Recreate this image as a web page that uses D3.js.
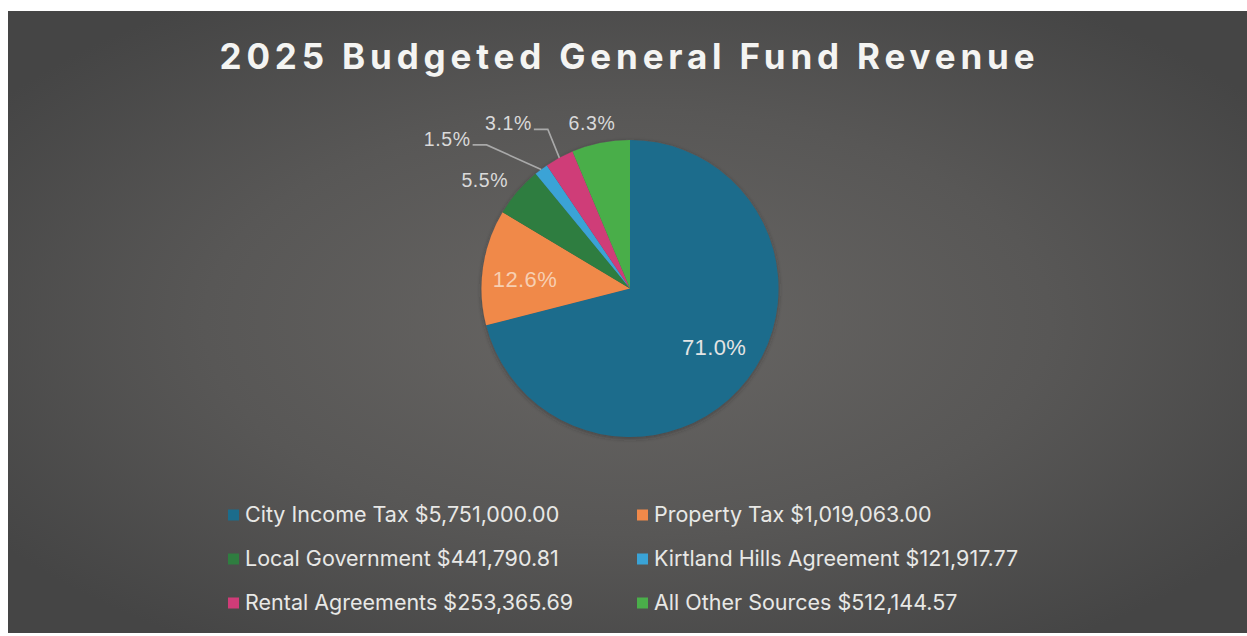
<!DOCTYPE html>
<html>
<head>
<meta charset="utf-8">
<script src="https://cdn.jsdelivr.net/npm/d3@7"></script>
<style>
  html, body { margin: 0; padding: 0; background: #ffffff; }
  svg { display: block; }
</style>
</head>
<body>
<svg id="chart" width="1247" height="636"></svg>
<script>
// Revenue sources and their budgeted amounts (USD)
const categories = [
  "City Income Tax",
  "Property Tax",
  "Local Government",
  "Kirtland Hills Agreement",
  "Rental Agreements",
  "All Other Sources"
];
const amounts = [5751000.00, 1019063.00, 441790.81, 121917.77, 253365.69, 512144.57];
const amountLabels = ["$5,751,000.00", "$1,019,063.00", "$441,790.81", "$121,917.77", "$253,365.69", "$512,144.57"];
const sliceColors = ["#1b6c8c", "#f0894a", "#2f7d40", "#3aa3d6", "#cf3c78", "#4aae4a"];
const chartTitle = "2025 Budgeted General Fund Revenue";

// Label placement per slice: radius as a fraction of the pie radius, angle nudge in degrees
const labelPlacement = [
  { r: 0.69, da: -3, inside: true, fill: "#e4e4e4" },
  { r: 0.71, da: -3, inside: true, fill: "#f7cfb2" },
  { r: 1.22, da: -4 },
  { r: 1.59, da: -14, leader: true },
  { r: 1.38, da: -8, leader: true },
  { r: 1.14, da: -1.6 }
];

const W = 1247, H = 636;
const svg = d3.select("#chart");
const defs = svg.append("defs");

// Dark vignette backdrop
const bg = defs.append("radialGradient").attr("id", "bgGrad")
  .attr("cx", "0.5").attr("cy", "0.5").attr("r", "0.62");
bg.append("stop").attr("offset", "0%").attr("stop-color", "#686664");
bg.append("stop").attr("offset", "55%").attr("stop-color", "#585756");
bg.append("stop").attr("offset", "100%").attr("stop-color", "#454545");

const shadow = defs.append("filter").attr("id", "pieShadow")
  .attr("x", "-20%").attr("y", "-20%").attr("width", "140%").attr("height", "140%");
shadow.append("feDropShadow").attr("dx", 0).attr("dy", 1.5).attr("stdDeviation", 2)
  .attr("flood-color", "#2a2a2a").attr("flood-opacity", 0.5);

svg.append("rect")
  .attr("x", 8).attr("y", 11)
  .attr("width", W - 8).attr("height", 622)
  .attr("fill", "url(#bgGrad)");

// Title
svg.append("text")
  .attr("x", 627).attr("y", 69)
  .attr("text-anchor", "middle")
  .attr("font-family", "Inter, 'Open Sans', sans-serif")
  .attr("font-weight", 700)
  .attr("font-size", 35)
  .attr("textLength", 815)
  .attr("lengthAdjust", "spacing")
  .attr("fill", "#f4f4f2")
  .text(chartTitle);

// Pie
const cx = 630, cy = 288.5, radius = 148.5;
const total = d3.sum(amounts);
const pie = d3.pie().sort(null).value(d => d)(amounts);
const arc = d3.arc().innerRadius(0).outerRadius(radius);

const g = svg.append("g").attr("transform", `translate(${cx},${cy})`);
g.append("g").attr("filter", "url(#pieShadow)")
  .selectAll("path").data(pie).join("path")
  .attr("d", arc)
  .attr("fill", (d, i) => sliceColors[i]);

const pct = d3.format(".1%");
const toRad = Math.PI / 180;

pie.forEach((d, i) => {
  const p = labelPlacement[i];
  const mid = (d.startAngle + d.endAngle) / 2;
  const a = mid + p.da * toRad;
  const lr = radius * p.r;
  const lx = Math.sin(a) * lr;
  const ly = -Math.cos(a) * lr;
  const fs = p.inside ? 22 : 19.5;
  const label = g.append("text")
    .attr("x", lx).attr("y", ly)
    .attr("dy", "0.35em")
    .attr("text-anchor", "middle")
    .attr("font-family", "'Liberation Sans', Arial, sans-serif")
    .attr("font-size", fs)
    .attr("letter-spacing", p.inside ? 0.4 : 0.6)
    .attr("fill", p.fill || "#dadada")
    .text(pct(d.value / total));

  if (p.leader) {
    const bb = label.node().getBBox();
    const sx = bb.x + bb.width + 2;
    const sy = ly + fs * 0.3;
    const ex = Math.sin(mid) * radius;
    const ey = -Math.cos(mid) * radius;
    const kx = sx + 14;
    g.append("polyline")
      .attr("points", [[sx, sy], [kx, sy], [ex, ey]].map(q => q.join(",")).join(" "))
      .attr("fill", "none")
      .attr("stroke", "#a9a9a9")
      .attr("stroke-width", 1.6);
  }
});

// Legend: two columns, three rows
const legend = svg.append("g");
const colX = [228, 637];
const rowY = [522, 566, 610];
categories.forEach((c, i) => {
  const col = i % 2, row = Math.floor(i / 2);
  const item = legend.append("g").attr("transform", `translate(${colX[col]},${rowY[row]})`);
  item.append("rect")
    .attr("x", 0).attr("y", -12.5)
    .attr("width", 11).attr("height", 11)
    .attr("fill", sliceColors[i]);
  item.append("text")
    .attr("x", 17).attr("y", 0)
    .attr("font-family", "Inter, 'Open Sans', sans-serif")
    .attr("font-size", 21.5)
    .attr("fill", "#e8e8e6")
    .text(`${c} ${amountLabels[i]}`);
});
</script>
</body>
</html>
